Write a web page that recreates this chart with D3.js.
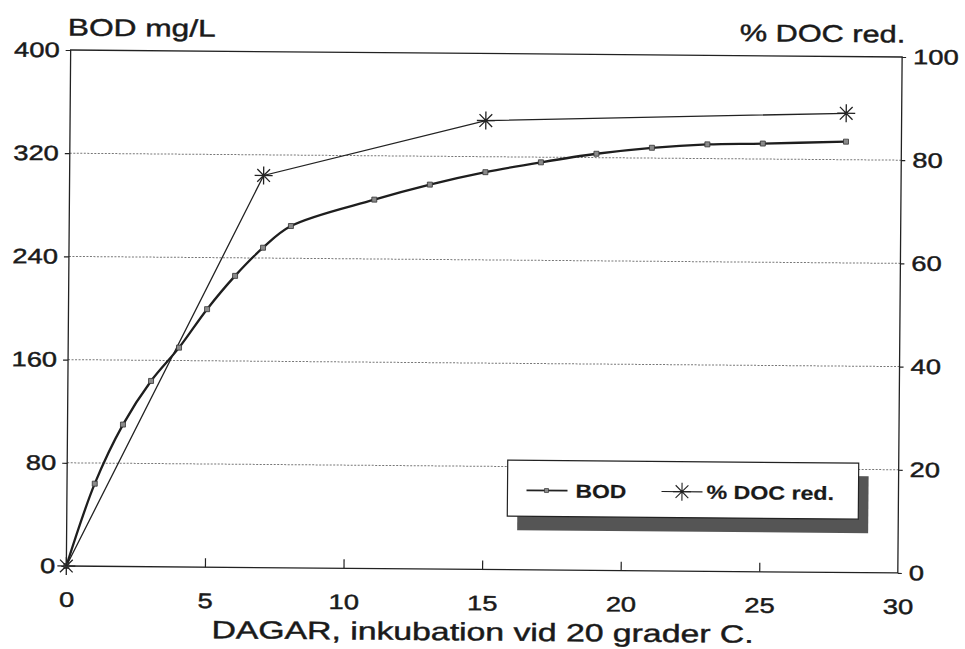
<!DOCTYPE html>
<html>
<head>
<meta charset="utf-8">
<script src="https://cdn.jsdelivr.net/npm/d3@7"></script>
<style>
    body { margin: 0; background: #fff; }
    svg { display: block; }
    text { font-family: "Liberation Sans", Arial, sans-serif; fill: #1a1a1a; stroke: #1a1a1a; stroke-width: 0.45px; }
</style>
</head>
<body>
<div id="chart"></div>
<script>
// BOD (mg/L) per incubation day
var bodDays = [0, 1, 2, 3, 4, 5, 6, 7, 8, 11, 13, 15, 17, 19, 21, 23, 25, 28];
var bodValues = [0, 64, 110, 144, 170, 200, 226, 248, 265, 286, 298, 308, 316, 323, 328, 331, 332, 334];

// % DOC reduction
var docDays = [0, 7, 15, 28];
var docValues = [0, 76, 87, 89];

var xTicks = [0, 5, 10, 15, 20, 25, 30];
var bodTicks = [0, 80, 160, 240, 320, 400];
var docTicks = [0, 20, 40, 60, 80, 100];

var margin = {
        top: 53.5,
        right: 65,
        bottom: 79.5,
        left: 68.5
    },
    viewWidth = 965,
    viewHeight = 649,
    width = viewWidth - margin.left - margin.right,
    height = viewHeight - margin.top - margin.bottom;

// old plotter fonts are wide, so text gets stretched horizontally
function stretch(sel, k) {
    sel.each(function() {
        var len = this.getComputedTextLength();
        d3.select(this)
            .attr('textLength', len * k)
            .attr('lengthAdjust', 'spacingAndGlyphs');
    });
}

var x = d3.scaleLinear().domain([0, 30]).range([0, width]);
var yBod = d3.scaleLinear().domain([0, 400]).range([height, 0]);
var yDoc = d3.scaleLinear().domain([0, 100]).range([height, 0]);

var svg = d3.select('#chart')
    .append('svg')
    .attr('width', viewWidth)
    .attr('height', viewHeight);

// the sheet sits slightly crooked
var page = svg.append('g')
    .attr('transform', 'rotate(0.48 485 310)');

var g = page.append('g')
    .attr('transform', 'translate(' + margin.left + ',' + margin.top + ')');

// dotted gridlines
g.selectAll('.grid')
    .data(bodTicks.filter(function(d) { return d > 0 && d < 400; }))
    .enter()
    .append('line')
    .attr('class', 'grid')
    .attr('x1', 0)
    .attr('x2', width)
    .attr('y1', function(d) { return yBod(d); })
    .attr('y2', function(d) { return yBod(d); })
    .attr('stroke', '#777')
    .attr('stroke-width', 1)
    .attr('stroke-dasharray', '2,1.5');

// axes
var leftAxis = g.append('g')
    .call(d3.axisLeft(yBod).tickValues(bodTicks).tickSize(5).tickPadding(6));

var rightAxis = g.append('g')
    .attr('transform', 'translate(' + width + ',0)')
    .call(d3.axisRight(yDoc).tickValues(docTicks).tickSize(4).tickPadding(7));

var bottomAxis = g.append('g')
    .attr('transform', 'translate(0,' + height + ')')
    .call(d3.axisBottom(x).tickValues(xTicks).tickSize(-9).tickPadding(26));

[leftAxis, rightAxis, bottomAxis].forEach(function(a) {
    a.attr('font-family', null).attr('font-size', null);
    a.select('.domain').remove();
    a.selectAll('line').attr('stroke', '#222').attr('stroke-width', 1.2);
    a.selectAll('text')
        .style('font-size', '21px')
        .attr('fill', '#1a1a1a');
    stretch(a.selectAll('text'), 1.3);
});
bottomAxis.selectAll('.tick').filter(function(d) { return d === 0 || d === 30; }).select('line').remove();

// frame
g.append('rect')
    .attr('x', 0)
    .attr('y', 0)
    .attr('width', width)
    .attr('height', height)
    .attr('fill', 'none')
    .attr('stroke', '#222')
    .attr('stroke-width', 1.3);

// axis titles
var t1 = g.append('text')
    .attr('x', -3)
    .attr('y', 39 - margin.top)
    .style('font-size', '24px')
    .text('BOD mg/L');
stretch(t1, 1.32);

var t2 = g.append('text')
    .attr('x', width + 3)
    .attr('y', 39 - margin.top)
    .attr('text-anchor', 'end')
    .style('font-size', '24px')
    .text('% DOC red.');
stretch(t2, 1.28);

var t3 = g.append('text')
    .attr('x', width / 2 + 1)
    .attr('y', height + 71)
    .attr('text-anchor', 'middle')
    .style('font-size', '25px')
    .text('DAGAR, inkubation vid 20 grader C.');
stretch(t3, 1.35);

// asterisk marker
function star(r) {
    var d = '';
    [0, 45, 90, 135].forEach(function(a) {
        var rad = a * Math.PI / 180,
            dx = Math.cos(rad) * r,
            dy = Math.sin(rad) * r;
        d += 'M' + (-dx) + ',' + (-dy) + 'L' + dx + ',' + dy;
    });
    return d;
}

// % DOC series
var docData = docDays.map(function(d, i) { return {day: d, value: docValues[i]}; });

g.append('path')
    .datum(docData)
    .attr('fill', 'none')
    .attr('stroke', '#222')
    .attr('stroke-width', 1.3)
    .attr('d', d3.line()
        .x(function(d) { return x(d.day); })
        .y(function(d) { return yDoc(d.value); }));

// BOD series
var bodData = bodDays.map(function(d, i) { return {day: d, value: bodValues[i]}; });

g.append('path')
    .datum(bodData)
    .attr('fill', 'none')
    .attr('stroke', '#1e1e1e')
    .attr('stroke-width', 2.3)
    .attr('d', d3.line()
        .curve(d3.curveCatmullRom.alpha(0.5))
        .x(function(d) { return x(d.day); })
        .y(function(d) { return yBod(d.value); }));

g.selectAll('.bod-pt')
    .data(bodData)
    .enter()
    .append('rect')
    .attr('class', 'bod-pt')
    .attr('x', function(d) { return x(d.day) - 2.5; })
    .attr('y', function(d) { return yBod(d.value) - 2.5; })
    .attr('width', 5)
    .attr('height', 5)
    .attr('fill', '#8a8a8a')
    .attr('stroke', '#333')
    .attr('stroke-width', 0.8);

g.selectAll('.doc-pt')
    .data(docData)
    .enter()
    .append('path')
    .attr('class', 'doc-pt')
    .attr('transform', function(d) { return 'translate(' + x(d.day) + ',' + yDoc(d.value) + ')'; })
    .attr('d', star(9))
    .attr('stroke', '#222')
    .attr('stroke-width', 1.3);

// legend
var legend = g.append('g')
    .attr('transform', 'translate(' + (509 - margin.left) + ',' + (460 - margin.top) + ')');

legend.append('rect')
    .attr('x', 10)
    .attr('y', 13)
    .attr('width', 351)
    .attr('height', 57)
    .attr('fill', '#555');

legend.append('rect')
    .attr('x', 0)
    .attr('y', 0)
    .attr('width', 351)
    .attr('height', 56)
    .attr('fill', '#fff')
    .attr('stroke', '#222')
    .attr('stroke-width', 1.2);

legend.append('line')
    .attr('x1', 19).attr('x2', 60)
    .attr('y1', 30).attr('y2', 30)
    .attr('stroke', '#222')
    .attr('stroke-width', 1.8);
legend.append('rect')
    .attr('x', 37).attr('y', 28)
    .attr('width', 4).attr('height', 4)
    .attr('fill', '#8a8a8a')
    .attr('stroke', '#333')
    .attr('stroke-width', 0.7);

var l1 = legend.append('text')
    .attr('x', 68)
    .attr('y', 37)
    .style('font-size', '19px')
    .style('font-weight', 'bold')
    .style('stroke-width', '0.2px')
    .text('BOD');
stretch(l1, 1.2);

legend.append('line')
    .attr('x1', 154).attr('x2', 195)
    .attr('y1', 30).attr('y2', 30)
    .attr('stroke', '#222')
    .attr('stroke-width', 1.1);
legend.append('path')
    .attr('transform', 'translate(174.5,30)')
    .attr('d', star(9))
    .attr('stroke', '#222')
    .attr('stroke-width', 1.1);

var l2 = legend.append('text')
    .attr('x', 199)
    .attr('y', 37)
    .style('font-size', '19px')
    .style('font-weight', 'bold')
    .style('stroke-width', '0.2px')
    .text('% DOC red.');
stretch(l2, 1.22);
</script>
</body>
</html>
